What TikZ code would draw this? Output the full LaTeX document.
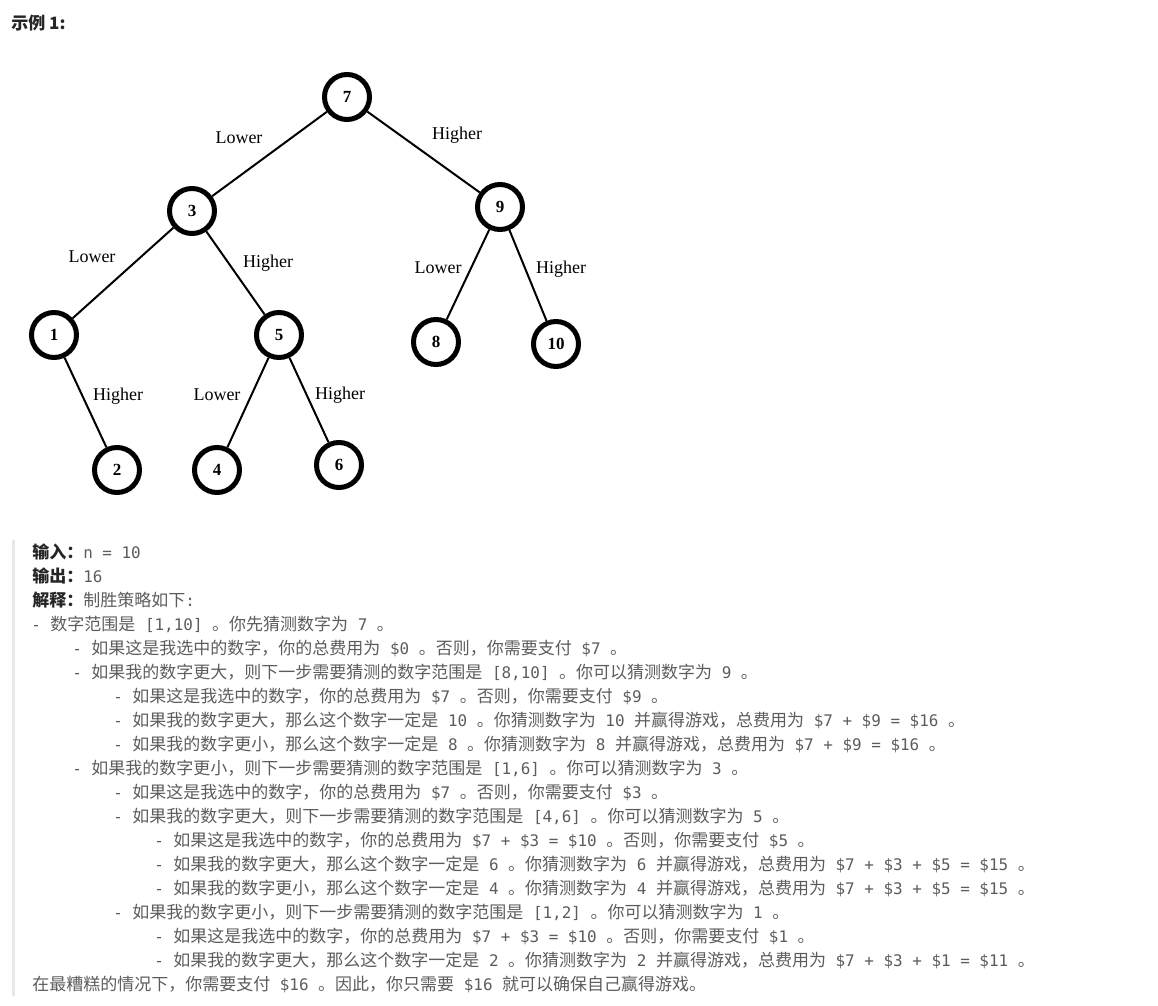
\documentclass[tikz,border=0pt]{standalone}
\usepackage{fontspec}
\setmainfont{Liberation Serif}
\newfontfamily\monofont{DejaVu Sans Mono}
\newfontfamily\cjkfont{Noto Sans CJK SC}
\newcommand{\zh}[1]{{\cjkfont\fontsize{12.75}{15}\selectfont #1}}
\newcommand{\lbl}[1]{\textcolor{txtdark}{\zh{\bfseries #1}}}
\definecolor{txtgray}{RGB}{92,92,92}
\definecolor{txtdark}{RGB}{38,38,38}
\definecolor{barline}{RGB}{232,232,232}

\begin{document}
\begin{tikzpicture}[x=0.75pt, y=-0.75pt,
  numnode/.style={circle, draw, line width=3.75pt, minimum size=33.75pt, inner sep=0pt,
    font=\fontsize{12.75}{14}\selectfont\bfseries},
  branchlbl/.style={anchor=base, inner sep=0pt, font=\fontsize{13.5}{16}\selectfont},
  treeedge/.style={line width=1.5pt},
  textline/.style={anchor=base west, inner sep=0pt, text=txtgray,
    font=\monofont\fontsize{11.95}{14}\selectfont}]
\useasboundingbox (0,0) rectangle (1158,1006);

% heading
\node[anchor=base west, inner sep=0pt, text=txtdark] (title) at (11,30) {\zh{\bfseries 示例 1:}};

% decision tree
\node[numnode] (n7) at (347,97) {7};
\node[numnode] (n3) at (192,211) {3};
\node[numnode] (n9) at (500,207) {9};
\node[numnode] (n1) at (54,335) {1};
\node[numnode] (n5) at (279,335) {5};
\node[numnode] (n8) at (436,342) {8};
\node[numnode] (n10) at (556,344) {10};
\node[numnode] (n2) at (117,470) {2};
\node[numnode] (n4) at (217,470) {4};
\node[numnode] (n6) at (339,465) {6};

\draw[treeedge] (n7) -- (n3);
\draw[treeedge] (n7) -- (n9);
\draw[treeedge] (n3) -- (n1);
\draw[treeedge] (n3) -- (n5);
\draw[treeedge] (n9) -- (n8);
\draw[treeedge] (n9) -- (n10);
\draw[treeedge] (n1) -- (n2);
\draw[treeedge] (n5) -- (n4);
\draw[treeedge] (n5) -- (n6);

\node[branchlbl] (lo7) at (239,143) {Lower};
\node[branchlbl] (hi7) at (457,140) {Higher};
\node[branchlbl] (lo3) at (92,262) {Lower};
\node[branchlbl] (hi3) at (268,267) {Higher};
\node[branchlbl] (lo9) at (438,273) {Lower};
\node[branchlbl] (hi9) at (561,273) {Higher};
\node[branchlbl] (hi1) at (118,400) {Higher};
\node[branchlbl] (lo5) at (217,400) {Lower};
\node[branchlbl] (hi5) at (340,399) {Higher};

% explanation block
\fill[barline] (12,540) rectangle (14.5,996);

\node[textline] (l0) at (32,558.5) {\lbl{输入：}n = 10};
\node[textline] (l1) at (32,582.5) {\lbl{输出：}16};
\node[textline] (l2) at (32,606.5) {\lbl{解释：}\zh{制胜策略如下}:};
\node[textline] (l3) at (31,630.5) {- \zh{数字范围是} [1,10] \zh{。你先猜测数字为} 7 \zh{。}};
\node[textline] (l4) at (72,654.5) {- \zh{如果这是我选中的数字，你的总费用为} \$0 \zh{。否则，你需要支付} \$7 \zh{。}};
\node[textline] (l5) at (72,678.5) {- \zh{如果我的数字更大，则下一步需要猜测的数字范围是} [8,10] \zh{。你可以猜测数字为} 9 \zh{。}};
\node[textline] (l6) at (113,702.5) {- \zh{如果这是我选中的数字，你的总费用为} \$7 \zh{。否则，你需要支付} \$9 \zh{。}};
\node[textline] (l7) at (113,726.5) {- \zh{如果我的数字更大，那么这个数字一定是} 10 \zh{。你猜测数字为} 10 \zh{并赢得游戏，总费用为} \$7 + \$9 = \$16 \zh{。}};
\node[textline] (l8) at (113,750.5) {- \zh{如果我的数字更小，那么这个数字一定是} 8 \zh{。你猜测数字为} 8 \zh{并赢得游戏，总费用为} \$7 + \$9 = \$16 \zh{。}};
\node[textline] (l9) at (72,774.5) {- \zh{如果我的数字更小，则下一步需要猜测的数字范围是} [1,6] \zh{。你可以猜测数字为} 3 \zh{。}};
\node[textline] (l10) at (113,798.5) {- \zh{如果这是我选中的数字，你的总费用为} \$7 \zh{。否则，你需要支付} \$3 \zh{。}};
\node[textline] (l11) at (113,822.5) {- \zh{如果我的数字更大，则下一步需要猜测的数字范围是} [4,6] \zh{。你可以猜测数字为} 5 \zh{。}};
\node[textline] (l12) at (154,846.5) {- \zh{如果这是我选中的数字，你的总费用为} \$7 + \$3 = \$10 \zh{。否则，你需要支付} \$5 \zh{。}};
\node[textline] (l13) at (154,870.5) {- \zh{如果我的数字更大，那么这个数字一定是} 6 \zh{。你猜测数字为} 6 \zh{并赢得游戏，总费用为} \$7 + \$3 + \$5 = \$15 \zh{。}};
\node[textline] (l14) at (154,894.5) {- \zh{如果我的数字更小，那么这个数字一定是} 4 \zh{。你猜测数字为} 4 \zh{并赢得游戏，总费用为} \$7 + \$3 + \$5 = \$15 \zh{。}};
\node[textline] (l15) at (113,918.5) {- \zh{如果我的数字更小，则下一步需要猜测的数字范围是} [1,2] \zh{。你可以猜测数字为} 1 \zh{。}};
\node[textline] (l16) at (154,942.5) {- \zh{如果这是我选中的数字，你的总费用为} \$7 + \$3 = \$10 \zh{。否则，你需要支付} \$1 \zh{。}};
\node[textline] (l17) at (154,966.5) {- \zh{如果我的数字更大，那么这个数字一定是} 2 \zh{。你猜测数字为} 2 \zh{并赢得游戏，总费用为} \$7 + \$3 + \$1 = \$11 \zh{。}};
\node[textline] (l18) at (32,990.5) {\zh{在最糟糕的情况下，你需要支付} \$16 \zh{。因此，你只需要} \$16 \zh{就可以确保自己赢得游戏。}};
\end{tikzpicture}
\end{document}
